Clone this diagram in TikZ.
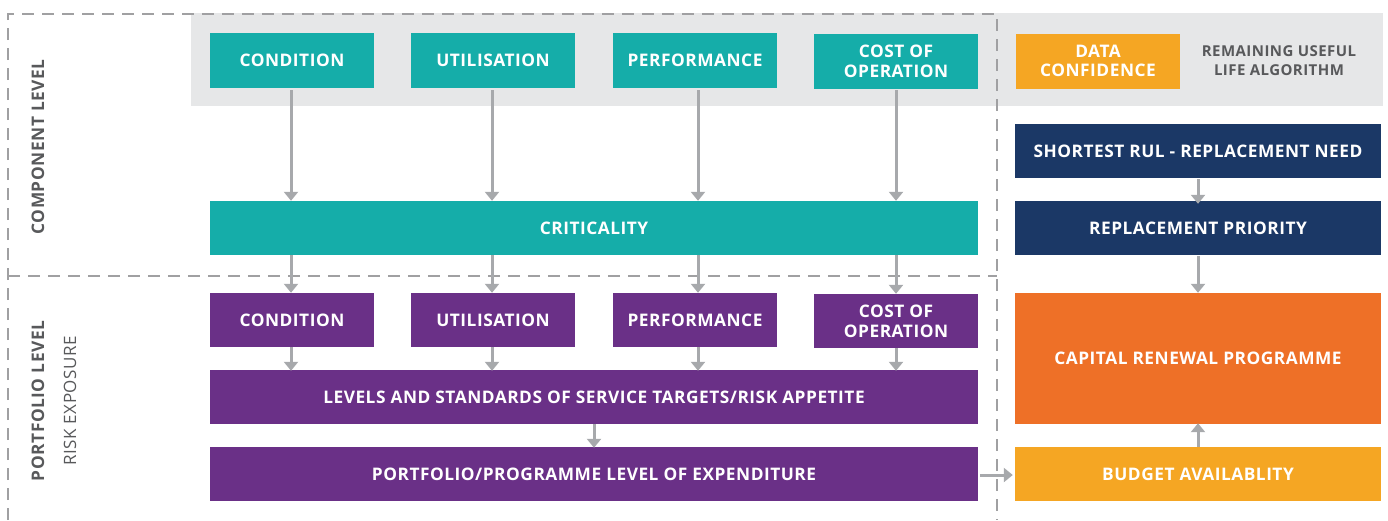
\documentclass[tikz,border=0pt]{standalone}
\usepackage{fontspec}
\setmainfont{Open Sans}[LetterSpace=3]
\usetikzlibrary{arrows.meta}
\definecolor{teal}{HTML}{15ADA9}
\definecolor{plum}{HTML}{6A3087}
\definecolor{navy}{HTML}{1B3866}
\definecolor{orng}{HTML}{EE7027}
\definecolor{gold}{HTML}{F5A623}
\definecolor{band}{HTML}{E6E7E8}
\definecolor{arr}{HTML}{A7A9AC}
\definecolor{dash}{HTML}{A0A0A2}
\definecolor{txtgray}{HTML}{58595B}
\tikzset{
  blk/.style={rectangle, inner sep=0pt, align=center, text=white, text depth=0pt,
    font=\bfseries\fontsize{17.3}{19.5}\selectfont},
  small/.style={blk, minimum width=164pt, minimum height=55pt},
  wide/.style={blk, minimum width=768pt, minimum height=54pt},
  right/.style={blk, minimum width=366pt, minimum height=54pt},
  flow/.style={draw=arr, line width=3pt, -{Triangle[width=14pt,length=9pt]}},
  frame/.style={draw=dash, line width=2.5pt, dash pattern=on 12pt off 8pt},
  sidelabel/.style={rotate=90, text=txtgray, font=\bfseries\fontsize{17.3}{19}\selectfont}
}
\begin{document}
\begin{tikzpicture}[x=1pt, y=-1pt]
\useasboundingbox (0,0) rectangle (1388,520);
% grey band behind the component inputs
\fill[band] (191,13) rectangle (1383,106);

% component level inputs
\node[small, fill=teal] (c1) at (292,60.5) {CONDITION};
\node[small, fill=teal] (c2) at (493,60.5) {UTILISATION};
\node[small, fill=teal] (c3) at (695,60.5) {PERFORMANCE};
\node[small, fill=teal] (c4) at (896,61) {COST OF\\OPERATION};
\node[small, fill=gold] (dc) at (1098,61) {DATA\\CONFIDENCE};
\node[align=center, text=txtgray, font=\bfseries\fontsize{15}{19}\selectfont] (rul) at (1279,60.5) {REMAINING USEFUL\\LIFE ALGORITHM};

\node[wide, fill=teal] (crit) at (594,228) {CRITICALITY};

% portfolio level
\node[small, fill=plum, minimum height=54pt] (p1) at (292,320) {CONDITION};
\node[small, fill=plum, minimum height=54pt] (p2) at (493,320) {UTILISATION};
\node[small, fill=plum, minimum height=54pt] (p3) at (695,320) {PERFORMANCE};
\node[small, fill=plum, minimum height=54pt] (p4) at (896,321) {COST OF\\OPERATION};
\node[wide, fill=plum] (lev) at (594,397) {LEVELS AND STANDARDS OF SERVICE TARGETS/RISK APPETITE};
\node[wide, fill=plum] (port) at (594,474) {PORTFOLIO/PROGRAMME LEVEL OF EXPENDITURE};

% renewal column
\node[right, fill=navy] (sr) at (1198,151) {SHORTEST RUL - REPLACEMENT NEED};
\node[right, fill=navy] (rp) at (1198,228) {REPLACEMENT PRIORITY};
\node[right, fill=orng, minimum height=131pt] (cap) at (1198,358.5) {CAPITAL RENEWAL PROGRAMME};
\node[right, fill=gold] (bud) at (1198,474) {BUDGET AVAILABLITY};

% level frames
\draw[frame] (8,520) -- (8,14) -- (997,14) -- (997,520);
\draw[frame] (8,276) -- (997,276);

\node[sidelabel] (cl) at (38,147) {COMPONENT LEVEL};
\node[sidelabel] (pl) at (38,401) {PORTFOLIO LEVEL};
\node[rotate=90, text=txtgray, font=\fontsize{17}{19}\selectfont] (re) at (70,401) {RISK EXPOSURE};

% connectors
\foreach \a/\x in {c1/291,c2/492,c3/698,c4/896}{
  \draw[flow] (0,90 -| \x,0) -- (crit.north -| \x,0);
}
\foreach \a/\x in {p1/291,p2/492,p3/698,p4/896}{
  \draw[flow] (crit.south -| \x,0) -- (\a.north -| \x,0);
  \draw[flow] (\a.south -| \x,0) -- ([yshift=-1pt]lev.north -| \x,0);
}
\draw[flow] (lev.south) -- ([yshift=-1pt]port.north);
\draw[flow] (sr.south) ++(0,1) -- ([yshift=-3pt]rp.north);
\draw[flow] (rp.south) ++(0,1) -- (cap.north);
\draw[flow] (bud.north) -- ([yshift=1pt]cap.south);
\draw[flow] ([xshift=2pt]port.east |- 0,475) -- ([xshift=-2pt]bud.west |- 0,475);
\end{tikzpicture}
\end{document}
